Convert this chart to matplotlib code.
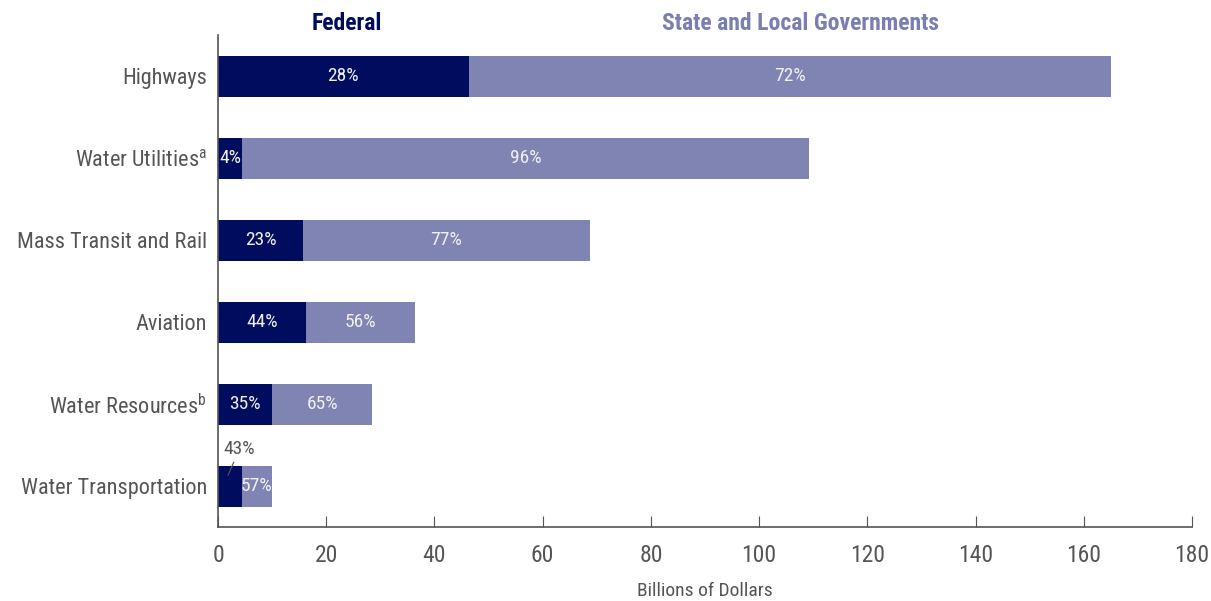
import numpy as np
import matplotlib.pyplot as plt
from matplotlib import font_manager

categories = ['Highways', 'Water Utilities', 'Mass Transit and Rail', 'Aviation',
              'Water Resources', 'Water Transportation']
superscripts = ['', 'a', '', '', 'b', '']
federal = [46.3, 4.4, 15.7, 16.2, 10.0, 4.4]
state_local = [118.7, 104.8, 53.0, 20.2, 18.5, 5.6]
federal_pct = ['28%', '4%', '23%', '44%', '35%', '43%']
state_pct = ['72%', '96%', '77%', '56%', '65%', '57%']

names = {f.name for f in font_manager.fontManager.ttflist}
font = 'DejaVu Sans'
for cand in ['Roboto Condensed', 'Archivo Narrow', 'PT Sans Narrow', 'Fira Sans Condensed',
             'IBM Plex Sans Condensed', 'Open Sans Condensed']:
    if cand in names:
        font = cand
        break
plt.rcParams['font.family'] = [font, 'DejaVu Sans']
plt.rcParams['mathtext.fontset'] = 'custom'
plt.rcParams['mathtext.rm'] = font

c_fed = '#000c5e'
c_state = '#8084b2'
c_text = '#555555'

fig = plt.figure(figsize=(12.11, 6.01), dpi=100)
ax = fig.add_axes([218 / 1211, 1 - 527 / 601, (1192 - 218) / 1211, 492 / 601])

y = np.arange(len(categories))
ax.barh(y, federal, height=0.5, color=c_fed)
ax.barh(y, state_local, left=federal, height=0.5, color=c_state)

for i in range(len(categories)):
    if i == len(categories) - 1:
        # small federal share is labelled above the bar with a leader line
        ax.annotate(federal_pct[i], xy=(federal[i] * 0.42, y[i] - 0.13),
                    xytext=(federal[i] * 0.9, y[i] - 0.45),
                    ha='center', va='center', fontsize=14, color=c_text, zorder=5,
                    arrowprops=dict(arrowstyle='-', color=c_text, lw=0.8, shrinkA=1, shrinkB=0))
    else:
        ax.text(federal[i] / 2, y[i], federal_pct[i], ha='center', va='center', color='#f0f0f0', fontsize=14)
    ax.text(federal[i] + state_local[i] / 2, y[i], state_pct[i], ha='center', va='center',
            color='#f0f0f0', fontsize=14)

labels = [c + (r'$^{\mathrm{%s}}$' % s if s else '') for c, s in zip(categories, superscripts)]
ax.set_yticks(y)
ax.set_yticklabels(labels, fontsize=16, color=c_text)
ax.tick_params(axis='y', length=0, pad=8)
ax.set_ylim(len(categories) - 0.5, -0.5)

ax.set_xlim(0, 180)
ax.set_xticks(np.arange(0, 181, 20))
ax.tick_params(axis='x', direction='in', length=8, color=c_text, labelsize=17, labelcolor=c_text, pad=12)
ax.set_xlabel('Billions of Dollars', fontsize=14, color=c_text, labelpad=11)

for s in ['top', 'right']:
    ax.spines[s].set_visible(False)
for s in ['left', 'bottom']:
    ax.spines[s].set_color(c_text)
    ax.spines[s].set_linewidth(1.2)

fig.text(347 / 1211, 1 - 23 / 601, 'Federal', ha='center', va='center', fontsize=17,
         fontweight='bold', color=c_fed)
fig.text(800 / 1211, 1 - 23 / 601, 'State and Local Governments', ha='center', va='center',
         fontsize=17, fontweight='bold', color='#7a7eb0')

fig.savefig('out.png', dpi=100)
